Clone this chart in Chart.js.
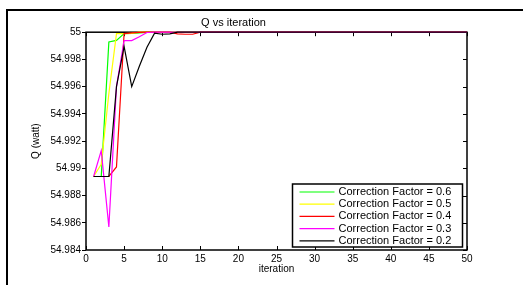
<!DOCTYPE html>
<html>
<head>
<meta charset="utf-8">
<script src="https://cdn.jsdelivr.net/npm/chart.js@4.4.0/dist/chart.umd.min.js"></script>
<style>
    html, body { margin: 0; padding: 0; background: #fff; overflow: hidden; }
    #wrap { position: relative; width: 523px; height: 285px; overflow: hidden; }
    #frame { position: absolute; left: 6px; top: 9px; right: 0; bottom: 0; border-top: 2px solid #000; border-left: 2px solid #000; }
    canvas { position: absolute; left: 0; top: 0; }
</style>
</head>
<body>
<div id="wrap">
    <div id="frame"></div>
    <canvas id="chart" width="523" height="285"></canvas>
</div>
<script>
const iterations = [
    1, 2, 3, 4, 5, 6, 7, 8, 9, 10,
    11, 12, 13, 14, 15, 16, 17, 18, 19, 20,
    21, 22, 23, 24, 25, 26, 27, 28, 29, 30,
    31, 32, 33, 34, 35, 36, 37, 38, 39, 40,
    41, 42, 43, 44, 45, 46, 47, 48, 49, 50
];

const cf06 = [
    54.9894, 54.9894, 54.99928, 54.99940, 54.99990, 54.99992, 54.99994, 54.99998, 55, 55,
    55, 55, 55, 55, 55, 55, 55, 55, 55, 55,
    55, 55, 55, 55, 55, 55, 55, 55, 55, 55,
    55, 55, 55, 55, 55, 55, 55, 55, 55, 55,
    55, 55, 55, 55, 55, 55, 55, 55, 55, 55
];
const cf05 = [
    54.9894, 54.9903, 54.9955, 54.99990, 54.99990, 54.99992, 55, 55, 55, 55,
    55, 55, 55, 55, 55, 55, 55, 55, 55, 55,
    55, 55, 55, 55, 55, 55, 55, 55, 55, 55,
    55, 55, 55, 55, 55, 55, 55, 55, 55, 55,
    55, 55, 55, 55, 55, 55, 55, 55, 55, 55
];
const cf04 = [
    54.9894, 54.9894, 54.9894, 54.9901, 54.99990, 54.99995, 54.99998, 55, 55, 55,
    55, 54.99988, 54.99985, 54.99985, 55, 55, 55, 55, 55, 55,
    55, 55, 55, 55, 55, 55, 55, 55, 55, 55,
    55, 55, 55, 55, 55, 55, 55, 55, 55, 55,
    55, 55, 55, 55, 55, 55, 55, 55, 55, 55
];
const cf03 = [
    54.9894, 54.9913, 54.9857, 54.9960, 54.99938, 54.99938, 54.99966, 54.99998, 55, 55,
    55, 55, 55, 55, 55, 55, 55, 55, 55, 55,
    55, 55, 55, 55, 55, 55, 55, 55, 55, 55,
    55, 55, 55, 55, 55, 55, 55, 55, 55, 55,
    55, 55, 55, 55, 55, 55, 55, 55, 55, 55
];
const cf02 = [
    54.9894, 54.9894, 54.9894, 54.9960, 54.99895, 54.9960, 54.9975, 54.9989, 54.99993, 54.99985,
    54.99988, 55, 55, 55, 55, 55, 55, 55, 55, 55,
    55, 55, 55, 55, 55, 55, 55, 55, 55, 55,
    55, 55, 55, 55, 55, 55, 55, 55, 55, 55,
    55, 55, 55, 55, 55, 55, 55, 55, 55, 55
];

const seriesLabels = [
    'Correction Factor = 0.6',
    'Correction Factor = 0.5',
    'Correction Factor = 0.4',
    'Correction Factor = 0.3',
    'Correction Factor = 0.2'
];
const seriesColors = ['#00ff00', '#ffff00', '#ff0000', '#ff00ff', '#000000'];
const seriesValues = [cf06, cf05, cf04, cf03, cf02];

const xTicks = [0, 5, 10, 15, 20, 25, 30, 35, 40, 45, 50];
const yTicks = [54.984, 54.986, 54.988, 54.99, 54.992, 54.994, 54.996, 54.998, 55];

Chart.defaults.font.family = '"Liberation Sans", Arial, sans-serif';
Chart.defaults.color = '#000';

function toPoints(values) {
    return values.map((v, i) => ({ x: iterations[i], y: v }));
}

// axes box + inward ticks under the lines, legend on top (matlab look)
const matlabBox = {
    id: 'matlabBox',
    beforeDatasetsDraw(chart) {
        const { ctx, chartArea: a, scales } = chart;
        ctx.save();
        ctx.strokeStyle = '#000';

        ctx.lineWidth = 1;
        ctx.beginPath();
        xTicks.forEach(v => {
            const x = Math.round(scales.x.getPixelForValue(v)) + 0.5;
            ctx.moveTo(x, a.bottom); ctx.lineTo(x, a.bottom - 4);
            ctx.moveTo(x, a.top); ctx.lineTo(x, a.top + 4);
        });
        yTicks.forEach(v => {
            const y = Math.round(scales.y.getPixelForValue(v)) + 0.5;
            ctx.moveTo(a.right, y); ctx.lineTo(a.right - 4, y);
        });
        ctx.stroke();

        ctx.lineWidth = 1.5;
        ctx.strokeRect(a.left, a.top, a.right - a.left, a.bottom - a.top);
        ctx.restore();
    },
    afterDraw(chart) {
        const { ctx, chartArea: a } = chart;
        ctx.save();
        const lw = 170, lh = 63;
        const lx = a.right - 4.5 - lw;
        const ly = a.bottom - 3 - lh;
        ctx.fillStyle = '#fff';
        ctx.fillRect(lx, ly, lw, lh);
        ctx.strokeStyle = '#000';
        ctx.lineWidth = 1.5;
        ctx.strokeRect(lx, ly, lw, lh);

        ctx.font = '11px "Liberation Sans", Arial, sans-serif';
        ctx.textBaseline = 'middle';
        chart.data.datasets.forEach((ds, i) => {
            const y = ly + 8 + i * 12.2;
            ctx.strokeStyle = ds.borderColor;
            ctx.lineWidth = 1.2;
            ctx.beginPath();
            ctx.moveTo(lx + 7, y);
            ctx.lineTo(lx + 42, y);
            ctx.stroke();
            ctx.fillStyle = '#000';
            ctx.fillText(ds.label, lx + 46, y);
        });
        ctx.restore();
    }
};

const chart = new Chart(document.getElementById('chart'), {
    type: 'line',
    data: {
        datasets: seriesValues.map((vals, i) => ({
            label: seriesLabels[i],
            data: toPoints(vals),
            borderColor: seriesColors[i],
            backgroundColor: seriesColors[i],
            borderWidth: 1.2,
            pointRadius: 0,
            tension: 0,
            clip: false,
            order: seriesValues.length - 1 - i
        }))
    },
    options: {
        responsive: false,
        animation: false,
        events: [],
        layout: { padding: { left: 0, right: 56, top: 0, bottom: 0 } },
        plugins: {
            legend: { display: false },
            tooltip: { enabled: false },
            title: {
                display: true,
                text: 'Q vs iteration',
                font: { size: 11, weight: 'normal' },
                color: '#000',
                padding: { top: 16, bottom: 3 }
            }
        },
        scales: {
            x: {
                type: 'linear',
                min: 0,
                max: 50,
                afterFit: s => { s.height = 35; },
                afterBuildTicks: s => { s.ticks = xTicks.map(v => ({ value: v })); },
                grid: { display: false, drawTicks: false },
                border: { display: false },
                ticks: { font: { size: 10 }, padding: 3, maxRotation: 0, color: '#000' },
                title: {
                    display: true,
                    text: 'iteration',
                    font: { size: 10 },
                    color: '#000',
                    padding: { top: 0, bottom: 10 }
                }
            },
            y: {
                type: 'linear',
                min: 54.984,
                max: 55,
                afterFit: s => { s.width = 86; },
                afterBuildTicks: s => { s.ticks = yTicks.map(v => ({ value: v })); },
                grid: {
                    display: true,
                    drawOnChartArea: false,
                    drawTicks: true,
                    tickLength: 4,
                    tickColor: '#000'
                },
                border: { display: false },
                ticks: {
                    font: { size: 10 },
                    padding: 1,
                    color: '#000',
                    callback: v => String(Number(v.toFixed(3)))
                },
                title: {
                    display: true,
                    text: 'Q (watt)',
                    font: { size: 10 },
                    color: '#000',
                    padding: { top: 30, bottom: 0 }
                }
            }
        }
    },
    plugins: [matlabBox]
});
</script>
</body>
</html>
